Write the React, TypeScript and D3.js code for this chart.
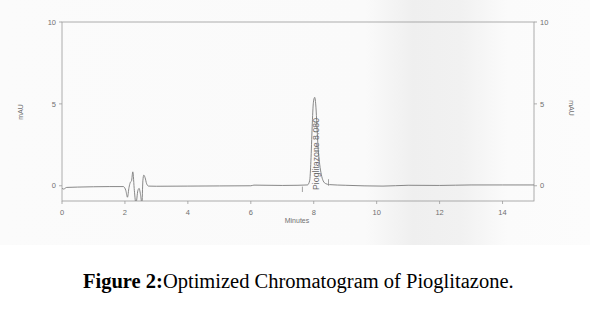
import React from "react";
import * as d3 from "d3";

const W = 590;
const H = 310;

// chromatogram trace: retention time (min) and signal (mAU)
const times = [
  0, 0.05, 0.15, 0.5, 1.0, 1.5, 1.95, 2.03, 2.08, 2.13, 2.17, 2.21, 2.25, 2.3, 2.35,
  2.41, 2.45, 2.5, 2.54, 2.57, 2.6, 2.64, 2.69, 2.75, 3.0, 4.0, 5.0, 6.0, 6.1, 7.0,
  7.5, 7.8, 7.87, 7.91, 7.95, 7.99, 8.03, 8.07, 8.1, 8.14, 8.19, 8.24, 8.3, 8.38,
  8.5, 9.0, 10.2, 11.0, 12.0, 13.0, 14.0, 15.0,
];
const signal = [
  -0.15, -0.2, -0.1, -0.08, -0.06, -0.05, -0.05, -0.3, -0.7, -0.1, 0.2, 0.3, 0.85,
  -0.3, -1.1, -0.3, -0.16, -0.6, -1.1, 0.3, 0.65, 0.5, 0.12, -0.02, -0.03, -0.02,
  -0.01, 0.0, 0.04, 0.02, 0.03, 0.05, 0.3, 1.5, 3.6, 5.1, 5.4, 4.8, 3.7, 2.3, 1.3,
  0.7, 0.3, 0.13, 0.07, 0.03, -0.02, 0.03, 0.02, 0.05, 0.05, 0.05,
];

const xTicks = [0, 2, 4, 6, 8, 10, 12, 14];
const yTicks = [0, 5, 10];
const xDomain = [0, 15];
const yDomain = [-0.93, 10];

const peakName = "Pioglitazone";
const peakTime = "8.080";
// integration event markers: time, from, to (mAU)
const markerTimes = [7.64, 8.47];
const markerFrom = [-0.05, 0.0];
const markerTo = [-0.38, 0.4];

const xAxisTitle = "Minutes";
const yAxisTitle = "mAU";
const captionBold = "Figure 2:";
const captionText = "Optimized Chromatogram of Pioglitazone.";

export default function App() {
  const x = d3.scaleLinear().domain(xDomain).range([62, 534]);
  const y = d3.scaleLinear().domain(yDomain).range([201, 22]);
  const pts = times.map((t, i) => [t, signal[i]] as [number, number]);
  const line = d3
    .line<[number, number]>()
    .x((d) => x(d[0]))
    .y((d) => y(d[1]))
    .curve(d3.curveMonotoneX);

  const [x0, x1] = x.range();
  const [yb, yt] = y.range();
  const tickFont = "Liberation Sans, Arial, sans-serif";
  const axisColor = "#9a9a9a";
  const textColor = "#707070";

  return (
    <svg
      width={W}
      height={H}
      style={{ position: "absolute", left: 0, top: 0, background: "#fff" }}
    >
      <defs>
        <linearGradient id="scan" x1="0" x2="1" y1="0" y2="0">
          <stop offset="0" stopColor="#fbfbfb" />
          <stop offset="0.62" stopColor="#fafafa" />
          <stop offset="0.7" stopColor="#efefef" />
          <stop offset="0.78" stopColor="#f1f1f1" />
          <stop offset="0.86" stopColor="#fbfbfb" />
          <stop offset="1" stopColor="#fcfcfc" />
        </linearGradient>
        <clipPath id="plot">
          <rect x={x0} y={yt} width={x1 - x0} height={yb - yt} />
        </clipPath>
      </defs>
      <rect x={0} y={0} width={W} height={245} fill="url(#scan)" />

      {/* frame */}
      <rect
        x={x0}
        y={yt}
        width={x1 - x0}
        height={yb - yt}
        fill="none"
        stroke={axisColor}
        strokeWidth={0.8}
      />

      {/* y ticks left and right */}
      {yTicks.map((v) => (
        <g key={"y" + v}>
          <line x1={x0 - 3} x2={x0} y1={y(v)} y2={y(v)} stroke={axisColor} strokeWidth={0.8} />
          <text
            x={x0 - 6}
            y={y(v)}
            dy="0.35em"
            textAnchor="end"
            fontSize={7.5}
            fontFamily={tickFont}
            fill={textColor}
          >
            {v}
          </text>
          <line x1={x1} x2={x1 + 3} y1={y(v)} y2={y(v)} stroke={axisColor} strokeWidth={0.8} />
          <text
            x={x1 + 6}
            y={y(v)}
            dy="0.35em"
            textAnchor="start"
            fontSize={7.5}
            fontFamily={tickFont}
            fill={textColor}
          >
            {v}
          </text>
        </g>
      ))}

      {/* x ticks */}
      {xTicks.map((v) => (
        <g key={"x" + v}>
          <line x1={x(v)} x2={x(v)} y1={yb} y2={yb + 3} stroke={axisColor} strokeWidth={0.8} />
          <text
            x={x(v)}
            y={yb + 11}
            dy="0.35em"
            textAnchor="middle"
            fontSize={7.5}
            fontFamily={tickFont}
            fill={textColor}
          >
            {v}
          </text>
        </g>
      ))}

      <text
        x={297}
        y={221}
        dy="0.35em"
        textAnchor="middle"
        fontSize={7}
        fontFamily={tickFont}
        fill={textColor}
      >
        {xAxisTitle}
      </text>
      <text
        transform={`translate(21,112) rotate(-90)`}
        dy="0.35em"
        textAnchor="middle"
        fontSize={7}
        fontFamily={tickFont}
        fill={textColor}
      >
        {yAxisTitle}
      </text>
      <text
        transform={`translate(571,108) rotate(90)`}
        dy="0.35em"
        textAnchor="middle"
        fontSize={7}
        fontFamily={tickFont}
        fill={textColor}
      >
        {yAxisTitle}
      </text>

      {/* trace */}
      <g clipPath="url(#plot)">
        <path d={line(pts) || ""} fill="none" stroke="#7a7a7a" strokeWidth={0.9} />
        {markerTimes.map((t, i) => (
          <line
            key={"m" + i}
            x1={x(t)}
            x2={x(t)}
            y1={y(markerFrom[i])}
            y2={y(markerTo[i])}
            stroke="#8a8a8a"
            strokeWidth={0.8}
          />
        ))}
      </g>

      {/* peak label */}
      <text
        transform={`translate(318.5,190) rotate(-90)`}
        textAnchor="start"
        fontSize={9}
        fontFamily="Liberation Sans, Arial, sans-serif"
        fill="#6a6a6a"
        textLength={72}
        lengthAdjust="spacingAndGlyphs"
      >
        {peakName + "  " + peakTime}
      </text>

      {/* caption */}
      <text
        x={83}
        y={288}
        fontSize={20.5}
        fontFamily="Liberation Serif, Times New Roman, serif"
        fill="#000"
      >
        <tspan fontWeight="bold">{captionBold}</tspan>
        <tspan>{captionText}</tspan>
      </text>
    </svg>
  );
}
